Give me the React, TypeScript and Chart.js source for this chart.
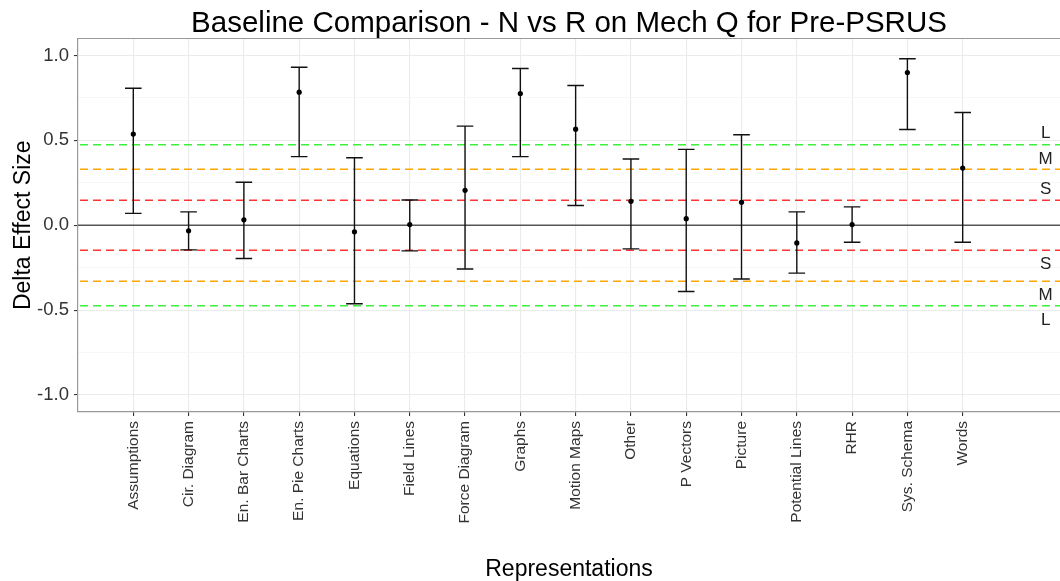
import React, { useEffect, useRef } from 'react';
import { Chart, registerables } from 'chart.js';

Chart.register(...registerables);

const FONT = "'Liberation Sans', Arial, sans-serif";

const titleText = 'Baseline Comparison - N vs R on Mech Q for Pre-PSRUS';
const xTitle = 'Representations';
const yTitle = 'Delta Effect Size';

const categories = [
  'Assumptions', 'Cir. Diagram', 'En. Bar Charts', 'En. Pie Charts', 'Equations',
  'Field Lines', 'Force Diagram', 'Graphs', 'Motion Maps', 'Other',
  'P Vectors', 'Picture', 'Potential Lines', 'RHR', 'Sys. Schema', 'Words',
];
const estimates = [0.537, -0.033, 0.032, 0.784, -0.039, 0.004, 0.206, 0.776, 0.566, 0.141, 0.039, 0.135, -0.104, 0.004, 0.899, 0.337];
const lowers = [0.07, -0.145, -0.196, 0.404, -0.462, -0.151, -0.258, 0.404, 0.116, -0.139, -0.39, -0.317, -0.282, -0.1, 0.564, -0.1];
const uppers = [0.807, 0.079, 0.253, 0.931, 0.398, 0.149, 0.584, 0.923, 0.823, 0.39, 0.447, 0.533, 0.079, 0.108, 0.981, 0.664];

const thresholds = [0.147, 0.33, 0.474];
const thresholdColors = ['#FF3535', '#FFA500', '#3CF03C'];
const sizeLabels = ['S', 'M', 'L'];
const sizeLabelUpperY = [0.21, 0.39, 0.54];
const sizeLabelLowerY = [-0.23, -0.41, -0.56];
const sizeLabelX = 17.5;

const yMajorTicks = [-1, -0.5, 0, 0.5, 1];
const yMinorTicks = [-0.75, -0.25, 0.25, 0.75];

const isMinor = (v: number) => yMinorTicks.some((m) => Math.abs(m - v) < 1e-6);

const annotationPlugin = {
  id: 'annotations',
  beforeDatasetsDraw(chart: any) {
    const { ctx, chartArea, scales } = chart;
    const xs = scales.x;
    const ys = scales.y;
    ctx.save();
    ctx.beginPath();
    ctx.rect(chartArea.left, chartArea.top, chartArea.right - chartArea.left, chartArea.bottom - chartArea.top);
    ctx.clip();
    // zero line
    ctx.strokeStyle = '#555555';
    ctx.lineWidth = 1.5;
    ctx.setLineDash([]);
    const y0 = ys.getPixelForValue(0);
    ctx.beginPath();
    ctx.moveTo(chartArea.left, y0);
    ctx.lineTo(chartArea.right, y0);
    ctx.stroke();
    // threshold dashed lines
    thresholds.forEach((t, i) => {
      ctx.strokeStyle = thresholdColors[i];
      ctx.lineWidth = 1.4;
      ctx.setLineDash([8, 5]);
      [t, -t].forEach((v) => {
        const py = ys.getPixelForValue(v);
        ctx.beginPath();
        ctx.moveTo(chartArea.left + 2, py);
        ctx.lineTo(chartArea.right, py);
        ctx.stroke();
      });
    });
    ctx.setLineDash([]);
    // error bars
    ctx.strokeStyle = '#111111';
    ctx.lineWidth = 1.4;
    categories.forEach((_, i) => {
      const cx = xs.getPixelForValue(i + 1);
      const xl = xs.getPixelForValue(i + 1 - 0.15);
      const xr = xs.getPixelForValue(i + 1 + 0.15);
      const yl = ys.getPixelForValue(lowers[i]);
      const yu = ys.getPixelForValue(uppers[i]);
      ctx.beginPath();
      ctx.moveTo(cx, yl);
      ctx.lineTo(cx, yu);
      ctx.moveTo(xl, yu);
      ctx.lineTo(xr, yu);
      ctx.moveTo(xl, yl);
      ctx.lineTo(xr, yl);
      ctx.stroke();
    });
    // size labels
    ctx.fillStyle = '#222222';
    ctx.font = `17px ${FONT}`;
    ctx.textAlign = 'center';
    ctx.textBaseline = 'middle';
    const lx = xs.getPixelForValue(sizeLabelX);
    sizeLabels.forEach((lab, i) => {
      ctx.fillText(lab, lx, ys.getPixelForValue(sizeLabelUpperY[i]));
      ctx.fillText(lab, lx, ys.getPixelForValue(sizeLabelLowerY[i]));
    });
    ctx.restore();
    // top border
    ctx.save();
    ctx.strokeStyle = '#999999';
    ctx.lineWidth = 1.2;
    ctx.beginPath();
    ctx.moveTo(chartArea.left, chartArea.top);
    ctx.lineTo(chartArea.right, chartArea.top);
    ctx.stroke();
    ctx.restore();
  },
};

export default function App() {
  const canvasRef = useRef<HTMLCanvasElement | null>(null);

  useEffect(() => {
    if (!canvasRef.current) return;
    const chart = new Chart(canvasRef.current, {
      type: 'scatter',
      data: {
        datasets: [
          {
            data: estimates.map((v, i) => ({ x: i + 1, y: v })),
            backgroundColor: '#000000',
            borderColor: '#000000',
            pointRadius: 2.6,
            pointBorderWidth: 0,
          },
        ],
      },
      plugins: [annotationPlugin],
      options: {
        responsive: false,
        animation: false,
        devicePixelRatio: 1,
        layout: { padding: 0 },
        plugins: {
          legend: { display: false },
          tooltip: { enabled: false },
          title: {
            display: true,
            text: titleText,
            fullSize: false,
            color: '#000000',
            font: { family: FONT, size: 29.5, weight: 'normal', lineHeight: 1 },
            padding: { top: 9, bottom: 0 },
          },
        },
        scales: {
          x: {
            type: 'linear',
            min: 0,
            max: 17.76,
            afterBuildTicks: (s: any) => {
              s.ticks = categories.map((_, i) => ({ value: i + 1 }));
            },
            afterFit: (s: any) => {
              s.height = 169;
            },
            ticks: {
              autoSkip: false,
              minRotation: 90,
              maxRotation: 90,
              padding: 5,
              color: '#333333',
              font: { family: FONT, size: 15.5 },
              callback: (v: any) => categories[Math.round(Number(v)) - 1] ?? '',
            },
            grid: { color: '#EBEBEB', lineWidth: 1.1, tickColor: '#333333', tickLength: 4 },
            border: { display: true, color: '#999999', width: 1.2 },
            title: {
              display: true,
              text: xTitle,
              color: '#000000',
              font: { family: FONT, size: 23, lineHeight: 1 },
              padding: { top: 0, bottom: 0 },
            },
          },
          y: {
            type: 'linear',
            min: -1.1,
            max: 1.1,
            afterBuildTicks: (s: any) => {
              s.ticks = [...yMajorTicks, ...yMinorTicks].sort((a, b) => a - b).map((v) => ({ value: v }));
            },
            afterFit: (s: any) => {
              s.width = 78;
            },
            ticks: {
              autoSkip: false,
              padding: 5,
              color: '#333333',
              font: { family: FONT, size: 18.5 },
              callback: (v: any) => (isMinor(Number(v)) ? '' : Number(v).toFixed(1)),
            },
            grid: {
              color: (c: any) => (c.tick && isMinor(c.tick.value) ? '#F5F5F5' : '#EBEBEB'),
              lineWidth: (c: any) => (c.tick && isMinor(c.tick.value) ? 0.8 : 1.1),
              tickColor: (c: any) => (c.tick && isMinor(c.tick.value) ? 'rgba(0,0,0,0)' : '#333333'),
              tickLength: 4,
            },
            border: { display: true, color: '#999999', width: 1.2 },
            title: {
              display: true,
              text: yTitle,
              color: '#000000',
              font: { family: FONT, size: 23, lineHeight: 1 },
              padding: { top: 12, bottom: 0 },
            },
          },
        },
      },
    } as any);
    return () => chart.destroy();
  }, []);

  return (
    <div style={{ position: 'absolute', left: 0, top: 0, width: 1060, height: 581, overflow: 'hidden', background: '#ffffff' }}>
      <canvas ref={canvasRef} width={1064} height={581} style={{ display: 'block' }} />
    </div>
  );
}
